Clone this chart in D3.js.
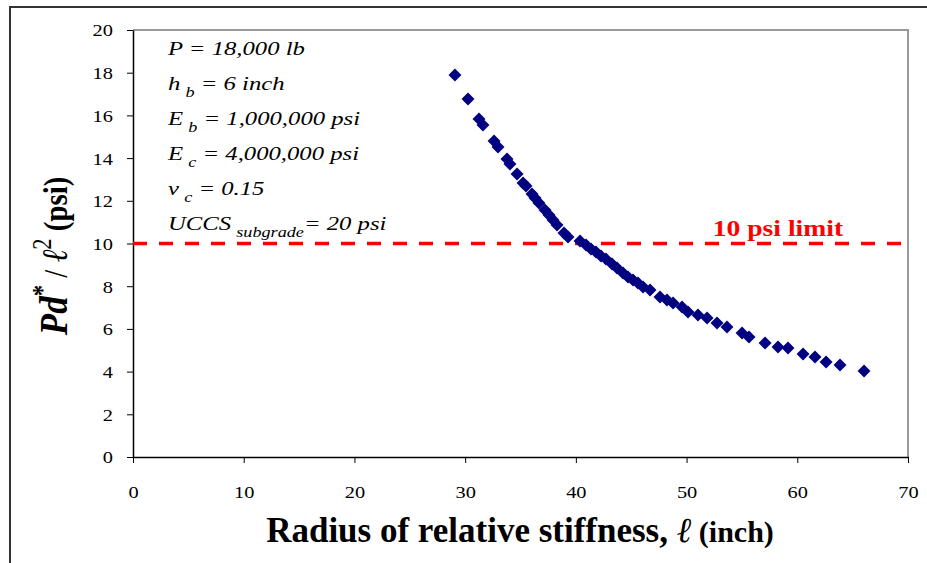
<!DOCTYPE html>
<html>
<head>
<meta charset="utf-8">
<script src="https://cdn.jsdelivr.net/npm/d3@7"></script>
<style>
  body { margin: 0; background: #fff; }
</style>
</head>
<body>
<svg id="chart" width="927" height="563"></svg>
<script>
// radius of relative stiffness (inch)
const stiffness = [29.08, 30.26, 31.25, 31.61, 32.61, 32.97, 33.78, 34.05, 34.69, 35.23,
  35.50, 36.04, 36.31, 36.67, 37.21, 37.58, 37.94, 38.30, 38.93, 39.29,
  40.38, 40.92, 41.37, 41.82, 42.27, 42.72, 43.27, 43.72, 44.26, 44.71,
  45.16, 45.61, 46.07, 46.70, 47.60, 48.23, 48.78, 49.59, 50.13, 51.03,
  51.85, 52.75, 53.65, 55.01, 55.64, 57.09, 58.26, 59.16, 60.52, 61.60,
  62.60, 63.86, 66.03];
// Pd*/l^2 (psi)
const pressure = [17.89, 16.77, 15.83, 15.55, 14.80, 14.52, 13.96, 13.72, 13.26, 12.83,
  12.69, 12.32, 12.13, 11.90, 11.57, 11.33, 11.10, 10.87, 10.49, 10.30,
  10.12, 9.93, 9.74, 9.60, 9.41, 9.27, 9.04, 8.85, 8.62, 8.43,
  8.29, 8.15, 7.96, 7.82, 7.49, 7.35, 7.21, 7.03, 6.79, 6.65,
  6.51, 6.28, 6.09, 5.81, 5.62, 5.34, 5.15, 5.11, 4.82, 4.68,
  4.45, 4.31, 4.03];
const xTicks = [0, 10, 20, 30, 40, 50, 60, 70];
const yTicks = [0, 2, 4, 6, 8, 10, 12, 14, 16, 18, 20];
const limitValue = 10;
const limitLabel = "10 psi limit";
// annotation lines: [main, subscript, rest]
const notes = [
  ["P ", "", " = 18,000 lb"],
  ["h", "b", " = 6 inch"],
  ["E", "b", " = 1,000,000 psi"],
  ["E", "c", " = 4,000,000 psi"],
  ["\u03bd", "c", " = 0.15"],
  ["UCCS", "subgrade", "= 20 psi"]
];

const serif = '"Liberation Serif", "Times New Roman", serif';
const margin = {top: 30, right: 19, bottom: 106, left: 133};
const width = 927 - margin.left - margin.right;
const height = 563 - margin.top - margin.bottom;

const svg = d3.select("#chart").style("font-family", serif);

// outer frame
svg.append("path")
  .attr("d", "M10,563 V7 H927")
  .attr("fill", "none")
  .attr("stroke", "#333")
  .attr("stroke-width", 2);

const g = svg.append("g").attr("transform", `translate(${margin.left},${margin.top})`);

const x = d3.scaleLinear().domain([0, 70]).range([0, width]);
const y = d3.scaleLinear().domain([0, 20]).range([height, 0]);

// plot area border (top/right grey)
g.append("path")
  .attr("d", `M0,0 H${width} V${height}`)
  .attr("fill", "none")
  .attr("stroke", "#999")
  .attr("stroke-width", 2);

const xAxis = g.append("g")
  .attr("transform", `translate(0,${height})`)
  .call(d3.axisBottom(x).tickValues(xTicks).tickSize(6).tickSizeOuter(0));
const yAxis = g.append("g")
  .call(d3.axisLeft(y).tickValues(yTicks).tickSize(6).tickSizeOuter(0));

[xAxis, yAxis].forEach(a => {
  a.attr("font-family", null);
  a.select(".domain").attr("stroke", "#000").attr("stroke-width", 1.5);
  a.selectAll(".tick line").attr("stroke", "#000");
  a.selectAll(".tick text")
    .style("font-family", serif)
    .attr("font-size", 17)
    .attr("fill", "#000");
});
xAxis.selectAll(".tick text")
  .attr("y", 0).attr("dy", 0)
  .attr("transform", "translate(0,41) scale(1.2,1)");
yAxis.selectAll(".tick text")
  .attr("x", 0).attr("dy", "0.35em")
  .attr("transform", "translate(-20,0) scale(1.2,1)");

// 10 psi limit
g.append("line")
  .attr("x1", 0).attr("x2", width)
  .attr("y1", y(limitValue)).attr("y2", y(limitValue))
  .attr("stroke", "#ff0000")
  .attr("stroke-width", 3.5)
  .attr("stroke-dasharray", "14,12");

g.append("text")
  .attr("transform", `translate(${x(58.25)},${y(limitValue) - 8}) scale(1.15,1)`)
  .attr("text-anchor", "middle")
  .attr("font-size", 24)
  .attr("font-weight", "bold")
  .attr("fill", "#ff0000")
  .text(limitLabel);

// points
const pts = stiffness.map((s, i) => ({s, p: pressure[i]}));
g.selectAll("path.pt")
  .data(pts)
  .join("path")
  .attr("class", "pt")
  .attr("d", d3.symbol().type(d3.symbolSquare).size(84))
  .attr("transform", d => `translate(${x(d.s)},${y(d.p)}) rotate(45)`)
  .attr("fill", "#000080");

// annotations
const notesG = svg.append("g").attr("font-style", "italic").attr("font-size", 19).attr("fill", "#000");
notes.forEach((n, i) => {
  const t = notesG.append("text")
    .style("font-family", serif)
    .attr("transform", `translate(168,${55 + i * 35}) scale(1.3,1)`);
  t.append("tspan").text(n[0]);
  if (n[1]) {
    t.append("tspan").attr("dx", 4).attr("dy", 7).attr("font-size", 14).text(n[1]);
    t.append("tspan").attr("dy", -7).text(n[2]);
  } else {
    t.append("tspan").text(n[2]);
  }
});

// x axis title
const xt = svg.append("text")
  .attr("x", 520)
  .attr("y", 542)
  .attr("text-anchor", "middle")
  .attr("font-weight", "bold")
  .attr("font-size", 35)
  .attr("fill", "#000");
xt.append("tspan").text("Radius of relative stiffness, ");
xt.append("tspan").attr("font-style", "italic").attr("font-weight", "normal").text("\u2113");
xt.append("tspan").attr("font-size", 30).text(" (inch)");

// y axis title
const yt = svg.append("text")
  .attr("transform", "translate(67,256) rotate(-90) scale(1.03,1.2)")
  .attr("text-anchor", "middle")
  .attr("font-weight", "bold")
  .attr("font-size", 34)
  .attr("fill", "#000");
yt.append("tspan").attr("font-style", "italic").text("Pd");
yt.append("tspan").attr("font-size", 22).attr("dy", -13).text("*");
yt.append("tspan").attr("dy", 13).attr("font-size", 28).attr("font-weight", "normal").text(" / ");
yt.append("tspan").attr("font-style", "italic").attr("font-size", 30).attr("font-weight", "normal").text("\u2113");
yt.append("tspan").attr("font-size", 22).attr("font-weight", "normal").attr("dy", -13).text("2");
yt.append("tspan").attr("font-size", 28).attr("dy", 13).text(" (psi)");
</script>
</body>
</html>
